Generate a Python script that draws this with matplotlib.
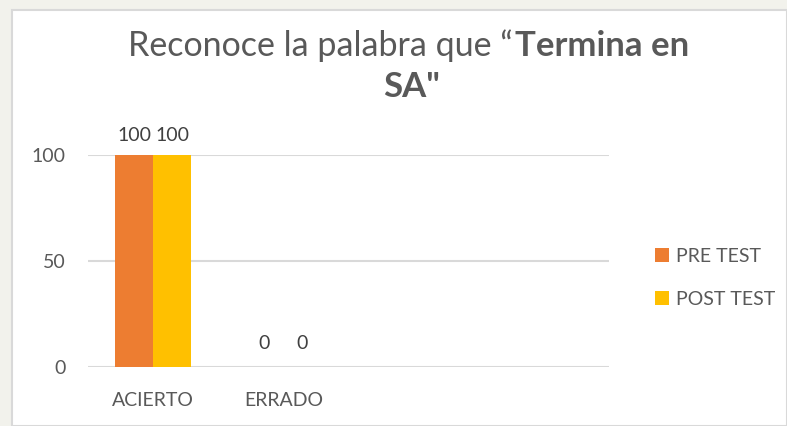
import numpy as np
import matplotlib.pyplot as plt
from matplotlib.patches import Rectangle

categories = ['ACIERTO', 'ERRADO', '', '']
pre_test = [100, 0]
post_test = [100, 0]
series_names = ['PRE TEST', 'POST TEST']
y_ticks = [0, 50, 100]

plt.rcParams['font.family'] = ['Lato', 'DejaVu Sans']
text_color = '#595959'

fig = plt.figure(figsize=(7.87, 4.26), dpi=100)
fig.patch.set_facecolor('#f2f2ec')

# white chart area with light border
fig.patches.append(Rectangle((12 / 787, 0), 1 - 12 / 787, 1 - 10 / 426,
                             transform=fig.transFigure, facecolor='white',
                             edgecolor='#d9d9d9', linewidth=1.5, zorder=-5))

ax = fig.add_axes([88 / 787, 59 / 426, 521 / 787, 212 / 426])
ax.set_zorder(2)
ax.set_facecolor('none')

x = np.arange(len(pre_test))
w = 0.29
b1 = ax.bar(x - w / 2, pre_test, w, color='#ED7D31', label=series_names[0], zorder=3)
b2 = ax.bar(x + w / 2, post_test, w, color='#FFC000', label=series_names[1], zorder=3)

for bars in (b1, b2):
    for rect in bars:
        v = rect.get_height()
        ax.text(rect.get_x() + rect.get_width() / 2, v + 5 if v > 0 else v + 7,
                f'{v:g}', ha='center', va='bottom', fontsize=14, color='#404040')

ax.set_xlim(-0.5, len(categories) - 0.5)
ax.set_ylim(0, 100)
ax.set_yticks(y_ticks)
ax.set_xticks(np.arange(len(categories)))
ax.set_xticklabels(categories)
ax.tick_params(axis='both', length=0, labelsize=14, labelcolor=text_color)
ax.tick_params(axis='y', pad=16)
ax.tick_params(axis='x', pad=18)
ax.yaxis.grid(True, color='#d9d9d9', linewidth=1.5, zorder=0)
for s in ax.spines.values():
    s.set_visible(False)

# title in two pieces (regular + bold)
fig.text(513 / 787, 0.893, 'Reconoce la palabra que \u201c', ha='right', va='center',
         fontsize=24.5, color=text_color)
fig.text(515 / 787, 0.893, 'Termina en', ha='left', va='center', fontsize=25,
         color=text_color, fontweight='bold')
fig.text(412 / 787, 0.795, 'SA"', ha='center', va='center', fontsize=25,
         color=text_color, fontweight='bold')

fig.legend(loc='center left', bbox_to_anchor=(0.81, 0.348), frameon=False,
           fontsize=14, labelcolor=text_color, handlelength=0.7, handleheight=0.7,
           handletextpad=0.4, labelspacing=1.35)

fig.savefig('out.png', dpi=100, facecolor=fig.get_facecolor())
